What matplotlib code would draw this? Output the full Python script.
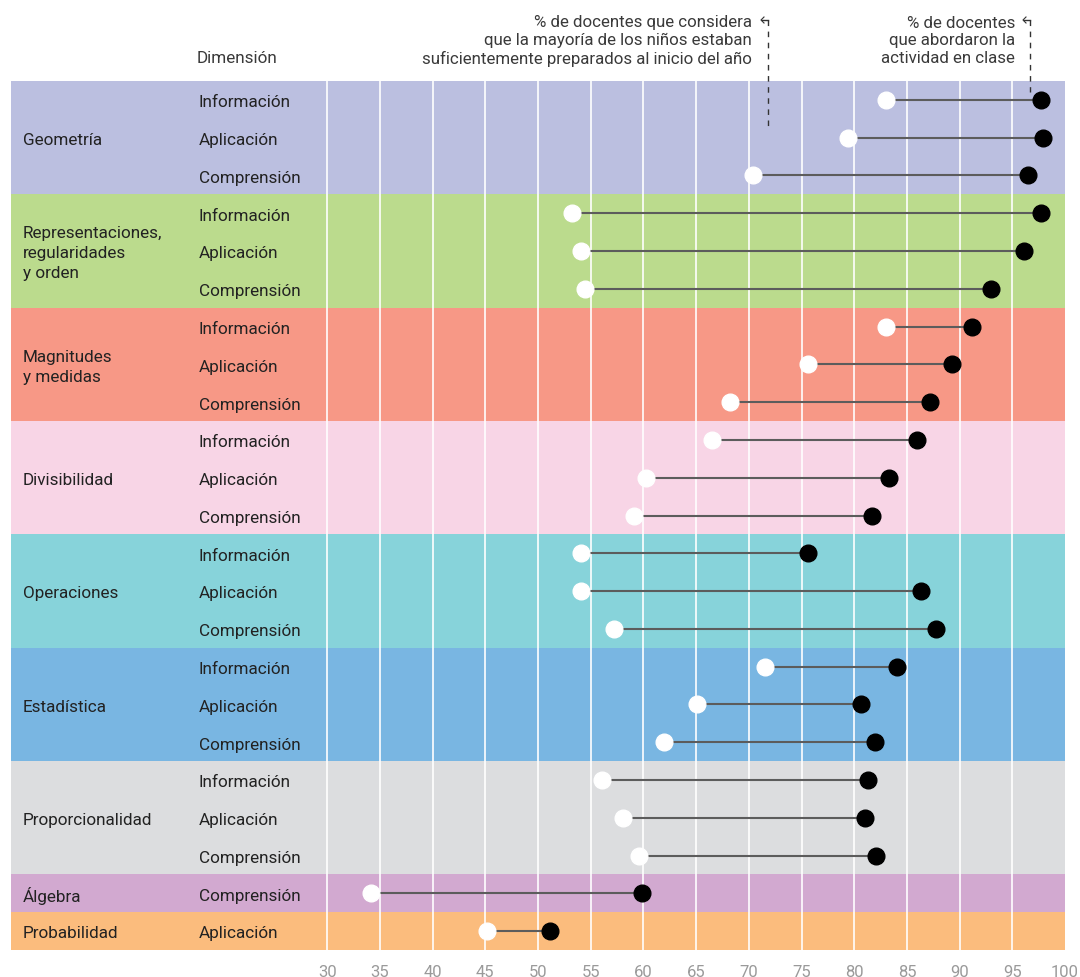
import matplotlib
matplotlib.use('Agg')
import matplotlib.pyplot as plt
from matplotlib.lines import Line2D

plt.rcParams['font.family'] = ['Roboto', 'DejaVu Sans']

# Datos
categorias = ['Geometría', 'Representaciones,\nregularidades\ny orden', 'Magnitudes\ny medidas',
              'Divisibilidad', 'Operaciones', 'Estadística', 'Proporcionalidad', 'Álgebra', 'Probabilidad']
dimensiones = [
    ['Información', 'Aplicación', 'Comprensión'],
    ['Información', 'Aplicación', 'Comprensión'],
    ['Información', 'Aplicación', 'Comprensión'],
    ['Información', 'Aplicación', 'Comprensión'],
    ['Información', 'Aplicación', 'Comprensión'],
    ['Información', 'Aplicación', 'Comprensión'],
    ['Información', 'Aplicación', 'Comprensión'],
    ['Comprensión'],
    ['Aplicación'],
]
colores = ['#bbbfe0', '#bbdb8d', '#f79886', '#f8d5e6', '#87d3da', '#79b6e2', '#dcdddf', '#d2a9d0', '#fbbc7d']

# % docentes: ninos preparados (blanco) / actividad abordada (negro)
preparados = [
    [83.0, 79.4, 70.4],
    [53.2, 54.1, 54.5],
    [83.0, 75.6, 68.2],
    [66.5, 60.2, 59.1],
    [54.1, 54.1, 57.2],
    [71.5, 65.1, 62.0],
    [56.1, 58.1, 59.6],
    [34.2],
    [45.2],
]
abordaron = [
    [97.7, 97.9, 96.5],
    [97.7, 96.1, 93.0],
    [91.2, 89.3, 87.2],
    [86.0, 83.3, 81.7],
    [75.6, 86.3, 87.8],
    [84.1, 80.6, 82.0],
    [81.3, 81.0, 82.1],
    [59.9],
    [51.1],
]
ticks = list(range(30, 101, 5))

W, H = 1080, 978
fig = plt.figure(figsize=(W / 100, H / 100), dpi=100)
ax = fig.add_axes([11 / W, (H - 951) / H, 1054 / W, 869 / H])

n_filas = sum(len(d) for d in dimensiones)
ax.set_xlim(0, 100)
ax.set_ylim(n_filas - 0.5, -0.5)

fs = 12.3
dy = 0.05  # pequeno ajuste vertical del texto
fila = 0
for cat, dims, col, ps, ab in zip(categorias, dimensiones, colores, preparados, abordaron):
    n = len(dims)
    ax.axhspan(fila - 0.5, fila + n - 0.5, color=col, lw=0, zorder=0)
    ax.text(1.15, fila + (n - 1) / 2 + dy, cat, ha='left', va='center', fontsize=fs,
            color='#222222', linespacing=1.42, zorder=5)
    for i, (d, p, a) in enumerate(zip(dims, ps, ab)):
        y = fila + i
        ax.text(17.8, y + dy, d, ha='left', va='center', fontsize=fs, color='#222222', zorder=5)
        ax.plot([p, a], [y, y], color='#5c5c5c', lw=1.5, zorder=3)
        ax.plot(p, y, 'o', ms=12, mfc='white', mec='white', zorder=4)
        ax.plot(a, y, 'o', ms=12, mfc='black', mec='black', zorder=4)
    fila += n

for t in ticks[:-1]:
    ax.axvline(t, color='white', lw=1.2, zorder=1)

ax.set_xticks(ticks)
ax.set_xticklabels([str(t) for t in ticks], fontsize=12, color='#9a9a9a')
ax.tick_params(axis='x', length=0, pad=10)
ax.set_yticks([])
for s in ax.spines.values():
    s.set_visible(False)

# Textos superiores
fig.text(197 / W, 1 - 59 / H, 'Dimensión', ha='left', va='center', fontsize=fs, color='#3a3a3a')
fig.text(752 / W, 1 - 41 / H,
         '% de docentes que considera\nque la mayoría de los niños estaban\nsuficientemente preparados al inicio del año',
         ha='right', va='center', fontsize=12.2, color='#3a3a3a', linespacing=1.23)
fig.text(1015 / W, 1 - 41 / H, '% de docentes\nque abordaron la\nactividad en clase',
         ha='right', va='center', fontsize=12.2, color='#3a3a3a', linespacing=1.23)

for x0, y1 in [(768, 130), (1030, 93)]:
    fig.add_artist(Line2D([x0 / W, x0 / W], [1 - 21 / H, 1 - y1 / H], color='#333333',
                          lw=1, ls=(0, (4, 4)), transform=fig.transFigure))
    fig.add_artist(Line2D([x0 / W, (x0 - 6) / W], [1 - 21 / H, 1 - 21 / H], color='#333333',
                          lw=1, transform=fig.transFigure))
    fig.add_artist(Line2D([(x0 - 4) / W, (x0 - 7) / W, (x0 - 4) / W],
                          [1 - 18 / H, 1 - 21 / H, 1 - 24 / H], color='#333333',
                          lw=0.8, transform=fig.transFigure))

fig.savefig('out.png', dpi=100)
